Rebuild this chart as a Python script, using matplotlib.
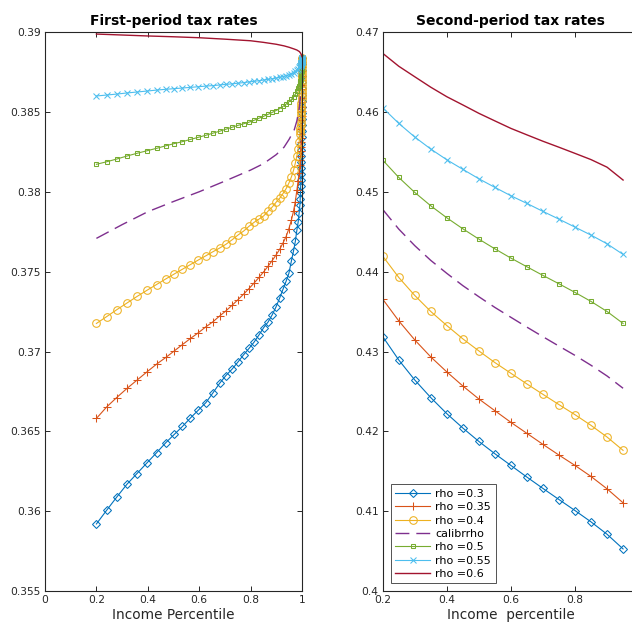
import matplotlib
matplotlib.use("Agg")
import matplotlib.pyplot as plt

plt.rcParams['font.family'] = ['DejaVu Sans']

# ---------------- data: first-period panel ----------------
x1 = [0.200, 0.240, 0.279, 0.319, 0.358, 0.397, 0.434, 0.470, 0.503, 0.535,
      0.566, 0.596, 0.626, 0.653, 0.679, 0.704, 0.728, 0.751, 0.773, 0.794,
      0.814, 0.833, 0.851, 0.868, 0.884, 0.899, 0.913, 0.926, 0.938, 0.949,
      0.959, 0.967, 0.974, 0.980, 0.985, 0.989, 0.992,
      0.9930, 0.9940, 0.9948, 0.9955, 0.9961, 0.9966, 0.9970, 0.9974, 0.9977, 0.9980,
      0.9983, 0.9985, 0.9987, 0.9989, 0.9991, 0.9992, 0.9993, 0.9994, 0.9995, 0.9996,
      0.9997, 0.9998, 0.9999, 1.0000]

t1_rho030 = [0.35920, 0.36006, 0.36088, 0.36169, 0.36236, 0.36303, 0.36366, 0.36429, 0.36481, 0.36531,
             0.36584, 0.36632, 0.36680, 0.36740, 0.36800, 0.36850, 0.36890, 0.36935, 0.36980, 0.37020,
             0.37060, 0.37105, 0.37150, 0.37185, 0.37230, 0.37280, 0.37335, 0.37390, 0.37440, 0.37490,
             0.37570, 0.37630, 0.37690, 0.37760, 0.37810, 0.37870, 0.37920,
             0.37958, 0.37997, 0.38035, 0.38073, 0.38112, 0.38150, 0.38188, 0.38227, 0.38265, 0.38303,
             0.38342, 0.38380, 0.38418, 0.38457, 0.38495, 0.38533, 0.38572, 0.38610, 0.38648, 0.38687,
             0.38725, 0.38763, 0.38802, 0.38840]
t1_rho035 = [0.36581, 0.36653, 0.36712, 0.36769, 0.36821, 0.36873, 0.36921, 0.36963, 0.37004, 0.37044,
             0.37082, 0.37117, 0.37155, 0.37186, 0.37222, 0.37255, 0.37290, 0.37325, 0.37360, 0.37395,
             0.37430, 0.37465, 0.37500, 0.37535, 0.37570, 0.37605, 0.37640, 0.37680, 0.37720, 0.37770,
             0.37825, 0.37880, 0.37940, 0.38010, 0.38070, 0.38120, 0.38170,
             0.38198, 0.38226, 0.38254, 0.38282, 0.38310, 0.38337, 0.38365, 0.38393, 0.38421, 0.38449,
             0.38477, 0.38505, 0.38533, 0.38561, 0.38589, 0.38617, 0.38644, 0.38672, 0.38700, 0.38728,
             0.38756, 0.38784, 0.38812, 0.38840]
t1_rho040 = [0.37176, 0.37219, 0.37262, 0.37304, 0.37345, 0.37384, 0.37420, 0.37455, 0.37486, 0.37516,
             0.37545, 0.37573, 0.37600, 0.37625, 0.37648, 0.37672, 0.37700, 0.37730, 0.37755, 0.37785,
             0.37810, 0.37830, 0.37850, 0.37880, 0.37905, 0.37935, 0.37960, 0.37990, 0.38020, 0.38055,
             0.38095, 0.38135, 0.38180, 0.38225, 0.38270, 0.38315, 0.38360,
             0.3838, 0.3840, 0.3842, 0.3844, 0.3846, 0.3848, 0.3850, 0.3852, 0.3854, 0.3856,
             0.3858, 0.3860, 0.3862, 0.3864, 0.3866, 0.3868, 0.3870, 0.3872, 0.3874, 0.3876,
             0.3878, 0.3880, 0.3882, 0.3884]
t1_rho050 = [0.38173, 0.38189, 0.38206, 0.38225, 0.38242, 0.38258, 0.38273, 0.38289, 0.38303, 0.38315,
             0.38329, 0.38342, 0.38355, 0.38368, 0.38380, 0.38393, 0.38405, 0.38417, 0.38427, 0.38437,
             0.38449, 0.38462, 0.38474, 0.38486, 0.38498, 0.38510, 0.38522, 0.38536, 0.38550, 0.38565,
             0.38580, 0.38596, 0.38612, 0.38630, 0.38648, 0.38666, 0.38685,
             0.38691, 0.38698, 0.38704, 0.38711, 0.38717, 0.38724, 0.38730, 0.38737, 0.38743, 0.38750,
             0.38756, 0.38763, 0.38769, 0.38775, 0.38782, 0.38788, 0.38795, 0.38801, 0.38808, 0.38814,
             0.38821, 0.38827, 0.38834, 0.38840]
t1_rho055 = [0.38601, 0.38607, 0.38613, 0.38620, 0.38626, 0.38632, 0.38638, 0.38643, 0.38647, 0.38651,
             0.38655, 0.38659, 0.38663, 0.38666, 0.38670, 0.38674, 0.38677, 0.38681, 0.38685, 0.38689,
             0.38693, 0.38697, 0.38701, 0.38705, 0.38709, 0.38713, 0.38718, 0.38723, 0.38728, 0.38734,
             0.38741, 0.38748, 0.38756, 0.38764, 0.38772, 0.38780, 0.38788,
             0.38790, 0.38792, 0.38795, 0.38797, 0.38799, 0.38801, 0.38803, 0.38805, 0.38808, 0.38810,
             0.38812, 0.38814, 0.38816, 0.38818, 0.38821, 0.38823, 0.38825, 0.38827, 0.38829, 0.38831,
             0.38834, 0.38836, 0.38838, 0.38840]

x1_line = [0.2, 0.3, 0.4, 0.5, 0.6, 0.7, 0.8, 0.85, 0.9, 0.93, 0.95, 0.97, 0.98, 0.99, 0.995, 0.998, 1.0]
t1_calib = [0.37709, 0.37795, 0.37876, 0.37940, 0.38001, 0.38068, 0.38137, 0.38177, 0.38234, 0.38280,
            0.38330, 0.38390, 0.38445, 0.38530, 0.38620, 0.38700, 0.38840]
t1_rho060 = [0.38989, 0.38983, 0.38977, 0.38972, 0.38966, 0.38957, 0.38947, 0.38937, 0.38925, 0.38915,
             0.38906, 0.38895, 0.38889, 0.38879, 0.38868, 0.38858, 0.38847]

# ---------------- data: second-period panel ----------------
x2 = [0.20, 0.25, 0.30, 0.35, 0.40, 0.45, 0.50, 0.55, 0.60, 0.65, 0.70, 0.75, 0.80, 0.85, 0.90, 0.95]
t2_rho030 = [0.43188, 0.42895, 0.42644, 0.42423, 0.42222, 0.42042, 0.41874, 0.41720,
             0.41573, 0.41427, 0.41285, 0.41146, 0.41008, 0.40866, 0.40711, 0.40527]
t2_rho035 = [0.43657, 0.43385, 0.43146, 0.42933, 0.42745, 0.42569, 0.42406, 0.42259,
             0.42113, 0.41975, 0.41837, 0.41703, 0.41573, 0.41435, 0.41280, 0.41105]
t2_rho040 = [0.44196, 0.43929, 0.43703, 0.43502, 0.43326, 0.43159, 0.43008, 0.42862,
             0.42728, 0.42594, 0.42464, 0.42335, 0.42209, 0.42075, 0.41929, 0.41762]
t2_calib = [0.44781, 0.44535, 0.44327, 0.44142, 0.43980, 0.43826, 0.43687, 0.43553,
            0.43429, 0.43306, 0.43186, 0.43068, 0.42952, 0.42828, 0.42694, 0.42540]
t2_rho050 = [0.45399, 0.45182, 0.44994, 0.44826, 0.44676, 0.44538, 0.44409, 0.44287,
             0.44171, 0.44062, 0.43954, 0.43849, 0.43741, 0.43628, 0.43502, 0.43352]
t2_rho055 = [0.46055, 0.45859, 0.45688, 0.45537, 0.45403, 0.45283, 0.45165, 0.45057,
             0.44952, 0.44856, 0.44756, 0.44659, 0.44559, 0.44459, 0.44350, 0.44217]
t2_rho060 = [0.46737, 0.46575, 0.46443, 0.46312, 0.46193, 0.46090, 0.45985, 0.45890,
             0.45796, 0.45715, 0.45635, 0.45560, 0.45483, 0.45405, 0.45310, 0.45149]

labels = ["rho =0.3", "rho =0.35", "rho =0.4", "calibrrho", "rho =0.5", "rho =0.55", "rho =0.6"]

y1_ticks = [0.355, 0.36, 0.365, 0.37, 0.375, 0.38, 0.385, 0.39]
y1_ticklabels = ["0.355", "0.36", "0.365", "0.37", "0.375", "0.38", "0.385", "0.39"]
x1_ticks = [0, 0.2, 0.4, 0.6, 0.8, 1.0]
x1_ticklabels = ["0", "0.2", "0.4", "0.6", "0.8", "1"]
y2_ticks = [0.40, 0.41, 0.42, 0.43, 0.44, 0.45, 0.46, 0.47]
y2_ticklabels = ["0.4", "0.41", "0.42", "0.43", "0.44", "0.45", "0.46", "0.47"]
x2_ticks = [0.2, 0.4, 0.6, 0.8]
x2_ticklabels = ["0.2", "0.4", "0.6", "0.8"]

# ---------------- styles ----------------
C_BLUE = '#0072BD'
C_ORANGE = '#D95319'
C_YELLOW = '#EDB120'
C_PURPLE = '#7E2F8E'
C_GREEN = '#77AC30'
C_CYAN = '#4DBEEE'
C_RED = '#A2142F'
AX_COL = '#262626'

W, H = 632, 629
fig = plt.figure(figsize=(W / 100, H / 100), dpi=100)

ax1 = fig.add_axes([45 / W, 1 - 591 / H, (302 - 45) / W, (591 - 32.3) / H])
ax2 = fig.add_axes([382.7 / W, 1 - 591 / H, (639.1 - 382.7) / W, (591 - 32.3) / H])

LW = 0.8
MEW = 0.75
dash = (10, 5)

# left panel
ax1.plot(x1, t1_rho030, color=C_BLUE, lw=LW, marker='D', ms=4.0, mfc='none', mew=MEW, clip_on=False)
ax1.plot(x1, t1_rho035, color=C_ORANGE, lw=LW, marker='+', ms=5.5, mew=MEW, clip_on=False)
ax1.plot(x1, t1_rho040, color=C_YELLOW, lw=LW, marker='o', ms=5.5, mfc='none', mew=MEW, clip_on=False)
ax1.plot(x1_line, t1_calib, color=C_PURPLE, lw=1.0, dashes=dash, clip_on=False)
ax1.plot(x1, t1_rho050, color=C_GREEN, lw=LW, marker='s', ms=3.5, mfc='none', mew=MEW, clip_on=False)
ax1.plot(x1, t1_rho055, color=C_CYAN, lw=LW, marker='x', ms=4.0, mew=MEW, clip_on=False)
ax1.plot(x1_line, t1_rho060, color=C_RED, lw=1.0, clip_on=False)

# right panel
h = []
h += ax2.plot(x2, t2_rho030, color=C_BLUE, lw=LW, marker='D', ms=4.0, mfc='none', mew=MEW)
h += ax2.plot(x2, t2_rho035, color=C_ORANGE, lw=LW, marker='+', ms=5.5, mew=MEW)
h += ax2.plot(x2, t2_rho040, color=C_YELLOW, lw=LW, marker='o', ms=5.5, mfc='none', mew=MEW)
h += ax2.plot(x2, t2_calib, color=C_PURPLE, lw=1.0, dashes=dash)
h += ax2.plot(x2, t2_rho050, color=C_GREEN, lw=LW, marker='s', ms=3.5, mfc='none', mew=MEW)
h += ax2.plot(x2, t2_rho055, color=C_CYAN, lw=LW, marker='x', ms=4.0, mew=MEW)
h += ax2.plot(x2, t2_rho060, color=C_RED, lw=1.0)

for ax in (ax1, ax2):
    for s in ax.spines.values():
        s.set_color(AX_COL)
        s.set_linewidth(0.8)
    ax.tick_params(direction='in', length=3.5, width=0.7, colors=AX_COL,
                   labelsize=7.7, top=True, right=True, pad=3)

ax1.set_xlim(0, 1)
ax1.set_ylim(0.355, 0.39)
ax1.set_xticks(x1_ticks)
ax1.set_xticklabels(x1_ticklabels)
ax1.set_yticks(y1_ticks)
ax1.set_yticklabels(y1_ticklabels)
ax1.set_title("First-period tax rates", fontsize=10, fontweight='bold', pad=5)
ax1.set_xlabel("Income Percentile", fontsize=9.8, color=AX_COL, labelpad=2)

ax2.set_xlim(0.2, 1.0)
ax2.set_ylim(0.40, 0.47)
ax2.set_xticks(x2_ticks)
ax2.set_xticklabels(x2_ticklabels)
ax2.set_yticks(y2_ticks)
ax2.set_yticklabels(y2_ticklabels)
ax2.set_title("Second-period tax rates", fontsize=10, fontweight='bold', pad=5)
ax2.set_xlabel("Income  percentile", fontsize=9.8, color=AX_COL, labelpad=2)

leg = ax2.legend(h, labels, loc='lower left', bbox_to_anchor=(0.032, 0.0138),
                 borderaxespad=0, fontsize=8, handlelength=3.1, labelspacing=0.3,
                 handletextpad=0.5, borderpad=0.4, frameon=True, fancybox=False)
leg.get_frame().set_edgecolor(AX_COL)
leg.get_frame().set_linewidth(0.7)

fig.savefig("out.png", dpi=100)
